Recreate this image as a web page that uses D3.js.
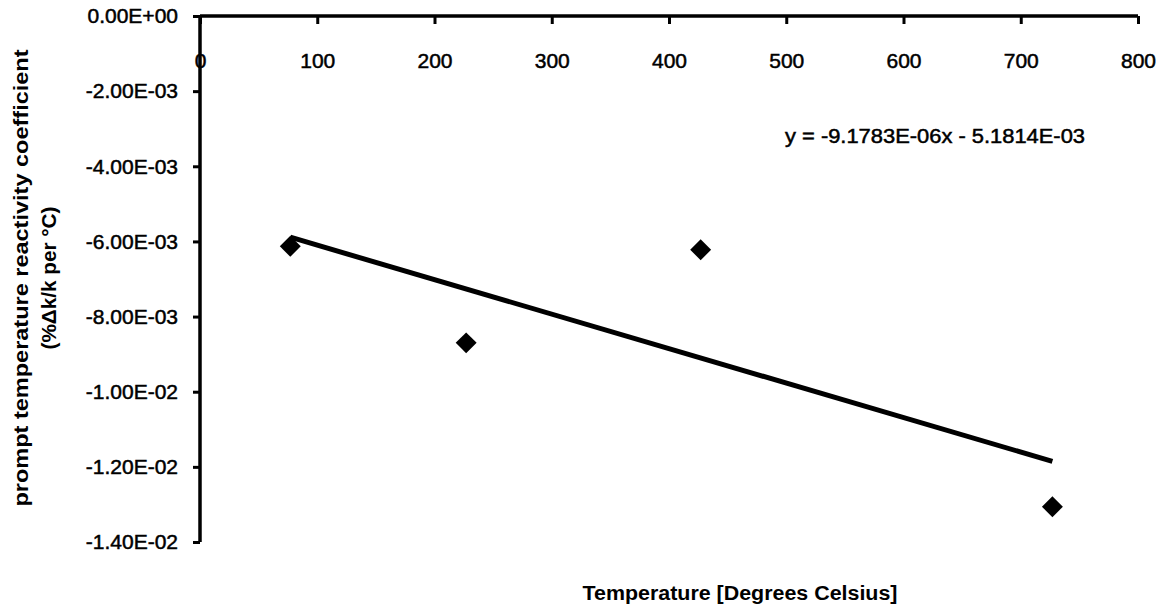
<!DOCTYPE html>
<html>
<head>
<meta charset="utf-8">
<script src="https://cdn.jsdelivr.net/npm/d3@7"></script>
<style>
  html, body { margin: 0; padding: 0; background: #fff; }
  svg { display: block; }
</style>
</head>
<body>
<svg id="chart" width="1163" height="604"></svg>
<script>
// ---- data ----
const temperatures = [77, 227, 427, 727];                 // Degrees Celsius
const coefficients = [-6.13e-3, -8.70e-3, -6.22e-3, -13.06e-3]; // %Δk/k per °C
const xTicks = [0, 100, 200, 300, 400, 500, 600, 700, 800];
const yTicks = [0, -2e-3, -4e-3, -6e-3, -8e-3, -1e-2, -1.2e-2, -1.4e-2];
const yTickLabels = ["0.00E+00", "-2.00E-03", "-4.00E-03", "-6.00E-03", "-8.00E-03", "-1.00E-02", "-1.20E-02", "-1.40E-02"];
const trendSlope = -9.1783e-6;
const trendIntercept = -5.1814e-3;
const trendLabel = "y = -9.1783E-06x - 5.1814E-03";
const xTitle = "Temperature [Degrees Celsius]";
const yTitleLines = ["prompt temperature reactivity coefficient", "(%Δk/k per °C)"];

// ---- layout ----
const svg = d3.select("#chart");
const mLeft = 200, mRight = 1138, mTop = 16, mBottom = 542;
const x = d3.scaleLinear().domain([0, 800]).range([mLeft, mRight]);
const y = d3.scaleLinear().domain([0, -1.4e-2]).range([mTop, mBottom]);
const font = "'Liberation Sans', Arial, sans-serif";

// y axis
const yAxis = svg.append("g")
  .attr("transform", `translate(${mLeft},0)`)
  .call(d3.axisLeft(y).tickValues(yTicks).tickSize(7).tickPadding(15)
    .tickFormat((d, i) => yTickLabels[i]));
yAxis.select(".domain").attr("stroke", "#000").attr("stroke-width", 3.5)
  .attr("d", `M0,${mTop}V${mBottom}`);
yAxis.selectAll(".tick line").attr("stroke", "#000").attr("stroke-width", 3);
yAxis.selectAll(".tick text").attr("font-family", font).attr("font-size", 21)
  .attr("fill", "#000").attr("stroke", "#000").attr("stroke-width", 0.5);

// x axis (at y = 0, i.e. top)
const xAxis = svg.append("g")
  .attr("transform", `translate(0,${y(0)})`)
  .call(d3.axisBottom(x).tickValues(xTicks).tickSize(8).tickPadding(29)
    .tickFormat(d3.format("d")));
xAxis.select(".domain").attr("stroke", "#000").attr("stroke-width", 3.5)
  .attr("d", `M${mLeft},0H${mRight}`);
xAxis.selectAll(".tick line").attr("stroke", "#000").attr("stroke-width", 3);
xAxis.selectAll(".tick text").attr("font-family", font).attr("font-size", 21)
  .attr("fill", "#000").attr("stroke", "#000").attr("stroke-width", 0.5);

// trend line
const xMin = d3.min(temperatures), xMax = d3.max(temperatures);
const trend = [xMin, xMax].map(t => [t, trendSlope * t + trendIntercept]);
svg.append("path")
  .datum(trend)
  .attr("d", d3.line().x(d => x(d[0])).y(d => y(d[1])))
  .attr("stroke", "#000").attr("stroke-width", 5).attr("fill", "none");

// points (diamonds)
const diamond = d3.symbol().type(d3.symbolSquare).size(220);
svg.append("g").selectAll("path")
  .data(temperatures.map((t, i) => [t, coefficients[i]]))
  .join("path")
  .attr("d", diamond)
  .attr("transform", d => `translate(${x(d[0])},${y(d[1])}) rotate(45)`)
  .attr("fill", "#000");

// trend equation
svg.append("text")
  .attr("x", 785).attr("y", 143)
  .attr("font-family", font).attr("font-size", 20)
  .attr("stroke", "#000").attr("stroke-width", 0.5)
  .attr("textLength", 300).attr("lengthAdjust", "spacingAndGlyphs")
  .text(trendLabel);

// x title
svg.append("text")
  .attr("x", 740).attr("y", 600)
  .attr("text-anchor", "middle")
  .attr("font-family", font).attr("font-size", 20).attr("font-weight", "bold")
  .attr("textLength", 315).attr("lengthAdjust", "spacingAndGlyphs")
  .text(xTitle);

// y title
const yTitleX = [28, 56];
const yTitleLen = [457, 143];
yTitleLines.forEach((line, i) => {
  svg.append("text")
    .attr("transform", `translate(${yTitleX[i]},278) rotate(-90)`)
    .attr("text-anchor", "middle")
    .attr("font-family", font).attr("font-size", i === 0 ? 20 : 21).attr("font-weight", "bold")
    .attr("textLength", yTitleLen[i]).attr("lengthAdjust", "spacingAndGlyphs")
    .text(line);
});
</script>
</body>
</html>
